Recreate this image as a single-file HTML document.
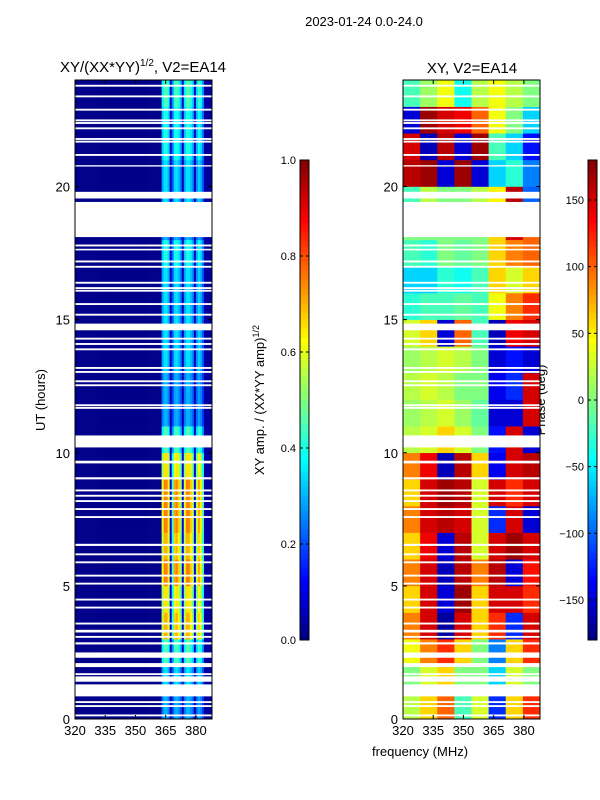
<!DOCTYPE html>
<html><head><meta charset="utf-8"><style>
html,body{margin:0;padding:0;background:#fff;}
svg{display:block;font-family:"Liberation Sans","DejaVu Sans",sans-serif;}
</style></head><body>
<svg id="chart" width="600" height="800" viewBox="0 0 600 800">
<text x="364" y="26" font-size="13" text-anchor="middle">2023-01-24 0.0-24.0</text>
<text x="143" y="72" font-size="15" text-anchor="middle">XY/(XX*YY)<tspan dy="-6" font-size="10">1/2</tspan><tspan dy="6">, V2=EA14</tspan></text>
<text x="472" y="73" font-size="15" text-anchor="middle">XY, V2=EA14</text>
<text x="45" y="400" font-size="13" text-anchor="middle" transform="rotate(-90 45 400)">UT (hours)</text>
<text x="420" y="756" font-size="13" text-anchor="middle">frequency (MHz)</text>
<text x="264" y="400" font-size="13" text-anchor="middle" transform="rotate(-90 264 400)">XY amp. / (XX*YY amp)<tspan dy="-5" font-size="9">1/2</tspan></text>
<text x="545" y="400" font-size="13" text-anchor="middle" transform="rotate(-90 545 400)">Phase (deg)</text>
<g id="left"></g>
<g id="right"></g>
<g id="cb1"></g>
<g id="cb2"></g>
</svg>
<script>
// ---- data ----
const freqMin = 320, freqMax = 388;
const hourMin = 0, hourMax = 24;
const xTicks = [320, 335, 350, 365, 380];
const yTicks = [0, 5, 10, 15, 20];
const ampTicks = [0.0, 0.2, 0.4, 0.6, 0.8, 1.0];
const phaseTicks = [-150, -100, -50, 0, 50, 100, 150];
// amplitude column profile, one value per 1 MHz channel 320..387
const ampColProfile = [
0.01,0.01,0.01,0.01,0.01,0.01,0.01,0.01,0.01,0.01,
0.01,0.01,0.01,0.01,0.01,0.01,0.01,0.01,0.01,0.01,
0.01,0.01,0.01,0.01,0.01,0.01,0.01,0.01,0.01,0.01,
0.01,0.01,0.01,0.01,0.01,0.01,0.01,0.01,0.01,0.01,
0.01,0.01,0.01,
0.8,1,1,0.85,0.15,0.6,0.95,1,0.9,0.7,0.15,0.8,1,1,0.9,0.75,0.15,0.75,0.95,0.85,0.6,
0.03,0.03,0.03,0.03];
// amplitude row scale per hour 0..23
const ampRowFactor = [0.3,0.35,0.45,0.7,0.65,0.75,0.7,0.75,0.75,0.65,0.45,0.3,0.3,0.35,0.35,0.35,0.35,0.4,0.3,0.35,0.35,0.4,0.4,0.45];
// phase (deg), per hour (0..23) x 8 frequency blocks
const phaseGrid = [
[20,60,100,-20,30,-120,60,120],
[0,30,60,0,0,-60,30,0],
[40,90,120,60,0,-90,60,120],
[90,150,-170,150,60,120,-120,150],
[60,150,-150,170,60,150,150,120],
[90,150,-160,160,90,160,-150,130],
[60,140,-150,160,30,150,170,150],
[90,150,160,150,30,-120,150,-150],
[60,150,170,160,30,150,120,150],
[90,140,-160,160,60,-140,150,160],
[20,30,60,30,0,-130,150,-150],
[10,20,30,10,-10,-150,-150,150],
[20,30,20,0,0,-140,-120,150],
[10,20,30,20,0,-150,-130,-150],
[30,60,-150,100,-20,-160,140,150],
[-30,-20,-20,-10,-20,40,90,120],
[-60,-60,-30,-40,-20,60,30,60],
[-20,-30,0,-10,0,60,90,100],
[0,0,0,0,0,60,150,100],
[-20,20,0,0,20,50,160,-100],
[160,170,-150,170,-150,-60,-30,-90],
[150,-160,160,-150,170,-20,-60,-130],
[-150,170,150,140,100,40,0,-60],
[-20,10,40,-40,20,40,20,0]];
// flagged (blank) time ranges in hours
const gapStarts = [23.75,23.35,22.85,22.45,22.35,22.15,21.75,21.65,21.15,20.75,19.55,18.1,17.75,17.6,17.15,16.95,16.35,16.15,16.05,15.55,15.15,14.6,14.25,14.05,13.85,13.15,13.0,12.65,12.5,11.75,11.65,10.2,9.6,9.0,8.55,8.35,8.15,7.85,7.55,6.5,6.15,5.85,5.35,5.05,4.45,4.15,3.55,3.25,3.05,2.8,2.3,1.95,1.65,1.4,0.85,0.6,0.45,0.1];
const gapEnds   = [23.82,23.42,22.92,22.52,22.42,22.22,21.82,21.72,21.22,20.8,19.8,19.42,17.82,17.66,17.22,17.02,16.42,16.22,16.12,15.62,15.22,14.85,14.32,14.12,13.92,13.22,13.07,12.72,12.57,11.82,11.72,10.65,9.7,9.08,8.62,8.42,8.22,7.92,7.62,6.58,6.22,5.92,5.42,5.12,4.52,4.22,3.62,3.35,3.12,2.88,2.5,2.1,1.72,1.6,1.3,0.67,0.52,0.17];

// ---- helpers ----
const NS = "http://www.w3.org/2000/svg";
function jet(v){
  v = Math.max(0, Math.min(1, v));
  const r = Math.max(0, Math.min(1, 1.5 - Math.abs(4*v - 3)));
  const g = Math.max(0, Math.min(1, 1.5 - Math.abs(4*v - 2)));
  const b = Math.max(0, Math.min(1, 1.5 - Math.abs(4*v - 1)));
  return `rgb(${Math.round(r*255)},${Math.round(g*255)},${Math.round(b*255)})`;
}
function mk(tag, attrs, parent){
  const e = document.createElementNS(NS, tag);
  for (const k in attrs) e.setAttribute(k, attrs[k]);
  parent.appendChild(e); return e;
}
const plotTop = 80, plotBottom = 719;
function yScale(h){ return plotBottom - (h - hourMin) / (hourMax - hourMin) * (plotBottom - plotTop); }
function makeX(x0, x1){ return f => x0 + (f - freqMin) / (freqMax - freqMin) * (x1 - x0); }
const xL = makeX(75, 212), xR = makeX(403, 540);

function drawGaps(g, xs){
  for (let i = 0; i < gapStarts.length; i++){
    const r = mk('rect', {x: xs(freqMin), y: yScale(gapEnds[i]), width: xs(freqMax)-xs(freqMin), height: yScale(gapStarts[i]) - yScale(gapEnds[i]), fill: '#fff'}, g);
    
    
  }
}
function drawAxes(g, xs){
  const x0 = xs(freqMin), x1 = xs(freqMax);
  const fr = mk('rect', {x: x0, y: plotTop, width: x1-x0, height: plotBottom-plotTop, fill: 'none', stroke: '#000', 'stroke-width': 1}, g);
  
  
  xTicks.forEach(t => {
    const x = xs(t);
    mk('line', {x1: x, y1: plotBottom, x2: x, y2: plotBottom-4, stroke: '#000'}, g);
    mk('line', {x1: x, y1: plotTop, x2: x, y2: plotTop+4, stroke: '#000'}, g);
    const tx = mk('text', {x: x, y: plotBottom+16, 'font-size': 13, 'text-anchor': 'middle'}, g);
    tx.textContent = t;
    
    
  });
  yTicks.forEach(t => {
    const y = yScale(t);
    mk('line', {x1: x0, y1: y, x2: x0+4, y2: y, stroke: '#000'}, g);
    mk('line', {x1: x1, y1: y, x2: x1-4, y2: y, stroke: '#000'}, g);
    const tx = mk('text', {x: x0-5, y: y+5, 'font-size': 13, 'text-anchor': 'end'}, g);
    tx.textContent = t;
    
    
  });
}

// ---- left amplitude heatmap ----
const gL = document.getElementById('left');
for (let h = 0; h < ampRowFactor.length; h++){
  for (let c = 0; c < ampColProfile.length; c++){
    const p = ampColProfile[c];
    const v = p < 0.1 ? p : p * ampRowFactor[h];
    const r = mk('rect', {x: xL(freqMin + c), y: yScale(h+1), width: xL(freqMin+c+1)-xL(freqMin+c)+0.3, height: yScale(h)-yScale(h+1)+0.3, fill: jet(v)}, gL);
    
    
  }
}
drawGaps(gL, xL);
drawAxes(gL, xL);

// ---- right phase heatmap ----
const gR = document.getElementById('right');
const nBlocks = phaseGrid[0].length;
const blockW = (freqMax - freqMin) / nBlocks;
for (let h = 0; h < phaseGrid.length; h++){
  for (let b = 0; b < nBlocks; b++){
    const f0 = freqMin + b*blockW;
    const r = mk('rect', {x: xR(f0), y: yScale(h+1), width: xR(f0+blockW)-xR(f0)+0.3, height: yScale(h)-yScale(h+1)+0.3, fill: jet((phaseGrid[h][b] + 180) / 360)}, gR);
    
    
  }
}
drawGaps(gR, xR);
drawAxes(gR, xR);

// ---- colorbars ----
function colorbar(g, x, vmin, vmax, ticks, fmt){
  const top = 160, bot = 640, w = 9, n = 100;
  for (let i = 0; i < n; i++){
    const y = bot - (i+1) * (bot-top)/n;
    mk('rect', {x: x, y: y, width: w, height: (bot-top)/n + 0.5, fill: jet((i+0.5)/n)}, g);
  }
  mk('rect', {x: x, y: top, width: w, height: bot-top, fill: 'none', stroke: '#000', 'stroke-width': 1}, g);
  ticks.forEach(t => {
    const y = bot - (t - vmin)/(vmax - vmin) * (bot-top);
    mk('line', {x1: x, y1: y, x2: x+3, y2: y, stroke: '#000'}, g);
    mk('line', {x1: x+w, y1: y, x2: x+w-3, y2: y, stroke: '#000'}, g);
    const tx = mk('text', {x: x-4, y: y+4, 'font-size': 11, 'text-anchor': 'end'}, g);
    tx.textContent = fmt(t);
    
    
  });
}
colorbar(document.getElementById('cb1'), 300, 0, 1, ampTicks, t => t.toFixed(1));
colorbar(document.getElementById('cb2'), 588, -180, 180, phaseTicks, t => t < 0 ? '\u2212' + (-t) : String(t));
</script>
</body></html>
